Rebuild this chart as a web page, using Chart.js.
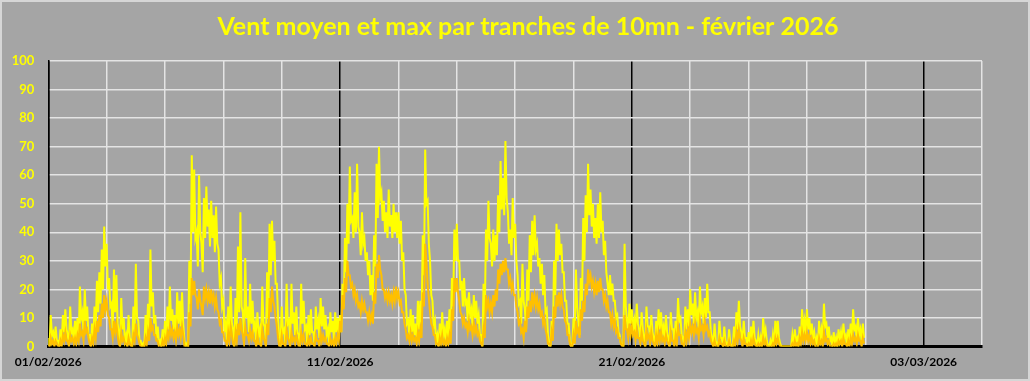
<!DOCTYPE html>
<html>
<head>
<meta charset="utf-8">
<script src="https://cdn.jsdelivr.net/npm/chart.js@4.4.1/dist/chart.umd.min.js"></script>
<style>
  html, body { margin: 0; padding: 0; background: #a5a5a5; }
  #wrap { width: 1030px; height: 381px; position: relative; }
</style>
</head>
<body>
<div id="wrap"><canvas id="c" width="1030" height="381"></canvas></div>
<script>
// ---- DATA: 2-hour slots, 12 per day, 01/02/2026 .. 28/02/2026 ----
// For each slot the upper and lower extent of each series.
const chartTitle = 'Vent moyen et max par tranches de 10mn - février 2026';
const seriesNames = ['Vent max', 'Vent moyen'];
const hoursPerSlot = 2;
const xTickDays = [0, 10, 20, 30];
const xTickLabels = ['01/02/2026', '11/02/2026', '21/02/2026', '03/03/2026'];
const yTickValues = [0, 10, 20, 30, 40, 50, 60, 70, 80, 90, 100];

const windMaxHigh = [
  3, 11, 5, 7, 2, 6, 11, 13, 4, 14, 6, 9,
  10, 21, 12, 20, 14, 4, 8, 14, 23, 26, 34, 42,
  36, 24, 15, 27, 25, 5, 17, 10, 4, 11, 2, 14,
  29, 9, 2, 1, 11, 15, 34, 19, 11, 7, 2, 6,
  9, 14, 21, 13, 11, 19, 16, 19, 2, 1, 30, 67,
  62, 40, 60, 36, 52, 56, 48, 51, 46, 49, 34, 24,
  16, 8, 14, 21, 6, 17, 35, 47, 12, 31, 14, 22,
  16, 8, 12, 6, 21, 7, 26, 43, 44, 37, 22, 2,
  14, 6, 22, 9, 22, 12, 14, 4, 22, 16, 7, 11,
  13, 5, 14, 9, 17, 14, 11, 6, 12, 9, 12, 10,
  11, 22, 38, 50, 63, 45, 54, 64, 40, 47, 38, 33,
  30, 25, 39, 64, 70, 54, 51, 47, 55, 46, 50, 47,
  47, 44, 33, 18, 9, 13, 11, 8, 16, 16, 39, 69,
  51, 30, 16, 9, 4, 8, 12, 6, 9, 13, 24, 41,
  43, 30, 23, 24, 16, 19, 13, 18, 16, 11, 4, 22,
  41, 51, 36, 41, 39, 53, 65, 59, 72, 47, 41, 52,
  43, 25, 16, 29, 13, 27, 39, 44, 46, 36, 31, 29,
  25, 13, 0, 9, 30, 43, 41, 36, 26, 16, 8, 0,
  10, 27, 9, 24, 45, 53, 64, 55, 50, 45, 50, 54,
  44, 37, 22, 25, 22, 16, 11, 4, 1, 36, 9, 15,
  13, 9, 15, 6, 12, 3, 14, 7, 11, 3, 9, 13,
  12, 7, 11, 3, 12, 6, 9, 17, 10, 3, 14, 13,
  20, 15, 19, 12, 21, 14, 17, 22, 12, 3, 8, 1,
  9, 3, 7, 1, 6, 0, 7, 12, 16, 5, 9, 3,
  5, 7, 9, 2, 4, 3, 10, 6, 0, 2, 4, 9,
  9, 1, 0, 0, 0, 0, 4, 6, 3, 7, 13, 9,
  13, 10, 8, 5, 3, 9, 6, 15, 8, 7, 3, 5,
  3, 6, 5, 8, 4, 6, 8, 13, 7, 10, 6, 8
];

const windMaxLow = [
  0, 4, 1, 2, 0, 1, 5, 6, 1, 5, 2, 3,
  3, 10, 5, 9, 4, 0, 2, 6, 12, 15, 20, 28,
  20, 14, 6, 12, 8, 0, 6, 2, 0, 3, 0, 5,
  10, 2, 0, 0, 3, 6, 14, 8, 3, 1, 0, 1,
  2, 6, 9, 6, 4, 8, 7, 8, 0, 0, 15, 40,
  38, 28, 40, 26, 38, 42, 35, 38, 33, 36, 22, 14,
  5, 1, 5, 8, 0, 6, 12, 14, 4, 10, 5, 8,
  6, 1, 4, 0, 8, 2, 10, 25, 30, 22, 10, 0,
  5, 1, 8, 2, 8, 4, 5, 0, 8, 6, 1, 4,
  5, 1, 6, 3, 7, 6, 4, 1, 5, 2, 5, 4,
  5, 14, 26, 36, 44, 38, 40, 42, 32, 36, 30, 25,
  18, 16, 28, 45, 52, 44, 40, 38, 42, 38, 40, 38,
  36, 30, 20, 8, 3, 5, 4, 2, 6, 8, 25, 50,
  36, 18, 7, 2, 0, 2, 4, 1, 3, 5, 14, 30,
  30, 20, 14, 15, 9, 11, 7, 10, 8, 4, 0, 10,
  30, 38, 28, 30, 32, 40, 48, 46, 52, 36, 32, 38,
  30, 15, 8, 16, 6, 16, 26, 32, 34, 28, 22, 18,
  12, 4, 0, 3, 18, 30, 32, 26, 16, 8, 2, 0,
  4, 14, 4, 16, 30, 40, 46, 42, 38, 36, 38, 40,
  32, 26, 18, 18, 16, 10, 5, 1, 0, 14, 4, 8,
  6, 4, 8, 2, 6, 0, 7, 3, 5, 0, 4, 6,
  5, 2, 5, 0, 6, 2, 4, 9, 4, 0, 6, 7,
  11, 8, 10, 6, 12, 8, 10, 12, 5, 0, 2, 0,
  3, 0, 2, 0, 1, 0, 2, 6, 7, 1, 3, 0,
  1, 2, 3, 0, 0, 0, 4, 2, 0, 0, 0, 3,
  3, 0, 0, 0, 0, 0, 0, 2, 0, 2, 6, 4,
  6, 4, 3, 1, 0, 3, 2, 7, 3, 2, 0, 1,
  0, 2, 1, 3, 0, 2, 3, 6, 2, 4, 2, 3
];

const windMeanHigh = [
  1, 3, 2, 2, 0, 2, 4, 5, 2, 4, 3, 3,
  4, 8, 5, 9, 6, 1, 3, 6, 9, 11, 15, 18,
  16, 10, 6, 9, 8, 1, 5, 3, 1, 3, 0, 4,
  8, 3, 0, 0, 3, 5, 10, 7, 4, 2, 0, 2,
  3, 5, 7, 6, 5, 7, 6, 7, 0, 0, 12, 24,
  23, 17, 20, 14, 21, 20, 19, 20, 18, 17, 12, 9,
  5, 2, 5, 7, 1, 5, 8, 10, 4, 7, 4, 6,
  5, 2, 4, 1, 6, 2, 8, 17, 21, 14, 7, 0,
  4, 1, 6, 2, 5, 3, 4, 0, 5, 4, 1, 3,
  3, 1, 4, 2, 5, 4, 3, 1, 3, 2, 3, 4,
  9, 18, 24, 30, 25, 22, 20, 18, 15, 16, 15, 12,
  12, 11, 19, 29, 32, 25, 20, 19, 19, 18, 19, 21,
  19, 16, 12, 6, 4, 5, 4, 3, 5, 6, 19, 36,
  22, 12, 7, 4, 1, 3, 4, 2, 3, 4, 13, 24,
  24, 16, 11, 10, 8, 9, 7, 8, 7, 5, 1, 6,
  18, 16, 15, 18, 20, 27, 29, 30, 31, 27, 24, 22,
  18, 12, 9, 6, 9, 14, 16, 19, 18, 17, 15, 12,
  10, 4, 1, 5, 14, 18, 19, 18, 13, 8, 4, 0,
  4, 9, 6, 13, 16, 22, 27, 25, 23, 22, 23, 24,
  20, 18, 16, 12, 11, 9, 6, 3, 0, 11, 6, 8,
  7, 5, 6, 3, 5, 1, 6, 4, 5, 1, 4, 5,
  5, 3, 4, 1, 5, 2, 4, 7, 4, 1, 5, 6,
  8, 7, 8, 6, 9, 7, 9, 7, 5, 1, 2, 0,
  3, 1, 2, 0, 2, 0, 2, 5, 6, 2, 3, 1,
  1, 2, 3, 0, 1, 1, 3, 2, 0, 0, 1, 3,
  3, 0, 0, 0, 0, 0, 1, 2, 1, 3, 5, 4,
  5, 4, 3, 2, 0, 3, 2, 5, 3, 2, 0, 1,
  1, 2, 2, 3, 1, 2, 3, 4, 3, 4, 2, 3
];

const windMeanLow = [
  0, 1, 0, 1, 0, 0, 2, 2, 0, 2, 1, 1,
  2, 4, 2, 5, 3, 0, 1, 3, 5, 7, 10, 13,
  11, 6, 3, 5, 4, 0, 2, 1, 0, 1, 0, 2,
  4, 1, 0, 0, 1, 2, 6, 4, 2, 0, 0, 0,
  1, 3, 4, 3, 2, 4, 3, 4, 0, 0, 7, 18,
  18, 13, 16, 11, 17, 16, 15, 16, 14, 13, 8, 5,
  2, 0, 2, 4, 0, 2, 4, 6, 1, 4, 2, 3,
  2, 0, 1, 0, 3, 0, 4, 12, 16, 10, 3, 0,
  1, 0, 3, 0, 2, 1, 2, 0, 2, 1, 0, 1,
  1, 0, 2, 0, 2, 2, 1, 0, 1, 0, 1, 2,
  5, 13, 19, 25, 21, 18, 16, 14, 12, 13, 12, 9,
  9, 8, 15, 24, 27, 20, 17, 16, 16, 15, 16, 17,
  15, 12, 8, 3, 2, 2, 2, 1, 2, 3, 14, 30,
  17, 8, 4, 1, 0, 1, 1, 0, 1, 1, 9, 19,
  19, 12, 8, 7, 5, 6, 4, 5, 4, 2, 0, 3,
  14, 12, 12, 14, 16, 22, 25, 26, 27, 22, 20, 18,
  14, 8, 5, 3, 5, 10, 12, 15, 14, 13, 11, 8,
  6, 1, 0, 2, 10, 14, 15, 14, 9, 4, 1, 0,
  1, 5, 3, 9, 12, 18, 23, 21, 19, 18, 19, 20,
  16, 14, 12, 8, 7, 5, 3, 1, 0, 6, 3, 4,
  4, 2, 3, 1, 2, 0, 3, 1, 2, 0, 1, 2,
  2, 1, 2, 0, 2, 0, 1, 4, 1, 0, 2, 3,
  5, 4, 5, 3, 6, 4, 6, 4, 2, 0, 0, 0,
  1, 0, 0, 0, 0, 0, 0, 2, 3, 0, 1, 0,
  0, 0, 1, 0, 0, 0, 1, 0, 0, 0, 0, 1,
  1, 0, 0, 0, 0, 0, 0, 0, 0, 1, 2, 2,
  2, 1, 1, 0, 0, 1, 0, 2, 1, 0, 0, 0,
  0, 1, 0, 1, 0, 0, 1, 2, 1, 2, 0, 1
];

// ---- build points: x in days since 01/02/2026; each slot gives its high then its low ----
function toPoints(high, low) {
  const pts = [];
  high.forEach((v, i) => {
    const t0 = i * hoursPerSlot / 24;
    pts.push({ x: t0, y: v });
    pts.push({ x: t0 + hoursPerSlot / 48, y: low[i] });
  });
  return pts;
}

const bgPlugin = {
  id: 'bg',
  beforeDraw(chart) {
    const ctx = chart.ctx;
    ctx.save();
    ctx.fillStyle = '#a5a5a5';
    ctx.fillRect(0, 0, chart.width, chart.height);
    ctx.restore();
  },
  afterDraw(chart) {
    const ctx = chart.ctx;
    ctx.save();
    ctx.strokeStyle = '#d6d6d6';
    ctx.lineWidth = 2;
    ctx.strokeRect(1, 1, chart.width - 2, chart.height - 2);
    ctx.restore();
  }
};
const titleShift = {
  id: 'titleShift',
  afterLayout(chart) {
    const t = chart.titleBlock;
    if (t) { t.left += 37; t.right += 37; }
  }
};

new Chart(document.getElementById('c'), {
  type: 'line',
  data: {
    datasets: [
      { label: seriesNames[0], data: toPoints(windMaxHigh, windMaxLow), borderColor: '#ffff00',
        backgroundColor: '#ffff00', borderWidth: 2, pointRadius: 0, tension: 0, order: 2 },
      { label: seriesNames[1], data: toPoints(windMeanHigh, windMeanLow), borderColor: '#ffc000',
        backgroundColor: '#ffc000', borderWidth: 2, pointRadius: 0, tension: 0, order: 1 }
    ]
  },
  options: {
    responsive: false,
    animation: false,
    events: [],
    layout: { padding: { left: 0, right: 48, top: 0, bottom: 10 } },
    plugins: {
      legend: { display: false },
      tooltip: { enabled: false },
      title: {
        display: true,
        text: chartTitle,
        color: '#ffff00',
        font: { family: 'Lato', size: 25, weight: 'bold' },
        padding: { top: 12, bottom: 19 }
      }
    },
    scales: {
      x: {
        type: 'linear',
        min: 0,
        max: 32,
        afterBuildTicks(scale) {
          const t = [];
          for (let v = 0; v <= 32; v += 2) t.push({ value: v });
          scale.ticks = t;
        },
        afterFit(scale) { scale.height = 24.5; },
        ticks: {
          autoSkip: false,
          maxRotation: 0,
          padding: 8,
          color: '#000000',
          font: { family: 'Lato', size: 12, weight: 'bold' },
          callback(v) {
            const k = xTickDays.indexOf(v);
            return k >= 0 ? xTickLabels[k] : '';
          }
        },
        grid: {
          drawTicks: false,
          color: ctx => (ctx.tick && xTickDays.includes(ctx.tick.value)) ? '#000000' : '#e4e4e4',
          lineWidth: 1.5
        },
        border: { display: true, color: '#000000', width: 3 }
      },
      y: {
        min: 0,
        max: 100,
        afterBuildTicks(scale) { scale.ticks = yTickValues.map(v => ({ value: v })); },
        afterFit(scale) { scale.width = 48.3; },
        ticks: {
          padding: 14,
          color: '#ffff00',
          font: { family: 'Lato', size: 13, weight: 'bold' }
        },
        grid: { drawTicks: false, color: '#e4e4e4', lineWidth: 1.5 },
        border: { display: true, color: '#000000', width: 1.5 }
      }
    }
  },
  plugins: [bgPlugin, titleShift]
});
</script>
</body>
</html>
